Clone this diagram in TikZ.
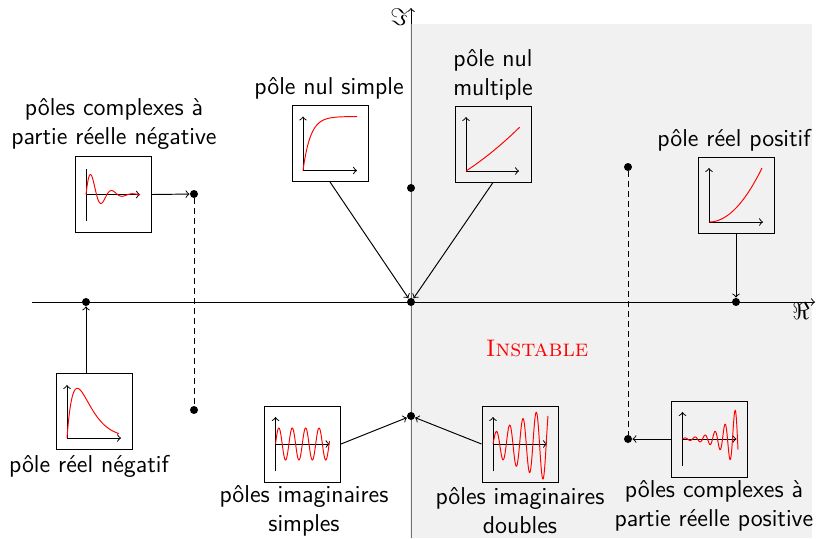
\documentclass[tikz,border=0pt]{standalone}
\usepackage{fontspec}
\begin{document}
\begin{tikzpicture}[x=0.5pt,y=-0.5pt,>=to,line width=0.48pt,
  every node/.style={font=\fontsize{12}{14}\selectfont},
  box/.style={draw, minimum size=38pt, inner sep=0pt},
  dot/.style={circle, fill, inner sep=0pt, minimum size=4pt},
  lab/.style={font=\sffamily\fontsize{12.2}{14.4}\selectfont, align=center, inner sep=0pt},
  curve/.style={red, smooth},
  dashline/.style={dash pattern=on 3pt off 2pt}]
\useasboundingbox (0,0) rectangle (820,538);
% imaginary axis (under the shaded region)
\draw[->] (411,538) -- (411,8);
\fill[black!11, fill opacity=0.5] (410.4,24) rectangle (812,538);
% real axis
\draw[->] (32,302) -- (815,302);
\node (re) at (801,311) {$\Re$};
\node (im) at (399,17) {$\Im$};
\node[red] (inst) at (537,348) {\textsc{Instable}};
% dots
\node[dot] (dA) at (86,302) {};
\node[dot] (dB) at (194,194) {};
\node[dot] (dC) at (194,410) {};
\node[dot] (dD) at (411,188) {};
\node[dot] (dE) at (411,416) {};
\node[dot] (dO) at (411,302) {};
\node[dot] (dF) at (628,167) {};
\node[dot] (dG) at (628,439) {};
\node[dot] (dH) at (736,302) {};
% boxes
\node[box] (b1) at (113,194.5) {};
\node[box] (b2) at (330,143.5) {};
\node[box] (b3) at (493,144) {};
\node[box] (b4) at (736,195) {};
\node[box] (b5) at (94,411) {};
\node[box] (b6) at (302.5,444) {};
\node[box] (b7) at (520,444) {};
\node[box] (b8) at (709.5,439) {};
% labels
\node[lab] (t1) at (114,124) {pôles complexes à\\partie réelle négative};
\node[lab] (t2) at (329,88) {pôle nul simple};
\node[lab] (t3) at (493,75) {pôle nul\\multiple};
\node[lab] (t4) at (734,140) {pôle réel positif};
\node[lab] (t5) at (89,466) {pôle réel négatif};
\node[lab] (t6) at (304,511) {pôles imaginaires\\simples};
\node[lab] (t7) at (520,511) {pôles imaginaires\\doubles};
\node[lab] (t8) at (714,506) {pôles complexes à\\partie réelle positive};
% connectors
\draw[->] (b1.east) -- (dB);
\draw[dashline] (dB) -- (dC);
\draw[->] (b2.south) -- (dO);
\draw[->] (b3.south) -- (dO);
\draw[->] (b4.south) -- (dH);
\draw[->] (b5.north -| dA) -- (dA);
\draw[->] (b6.east) -- (dE);
\draw[->] (b7.west) -- (dE);
\draw[->] (b8.west) -- (dG);
\draw[dashline] (dF) -- (dG);
% plots
\begin{scope}[shift={(b1.center)},yscale=-1]
  \draw (-27,-26) -- (-27,26);
  \draw[->] (-27,0) -- (27,0);
  \draw[curve] plot[domain=0:54,samples=160] ({\x-27},{29*exp(-\x/13)*sin(17.1429*\x)});
\end{scope}
\begin{scope}[shift={(b2.center)},yscale=-1]
  \draw[->] (-27,-27) -- (-27,27);
  \draw[->] (-27,-27) -- (27,-27);
  \draw[curve] plot[domain=0:54,samples=80] ({\x-27},{54*(1-exp(-\x/7.5))-27});
\end{scope}
\begin{scope}[shift={(b3.center)},yscale=-1]
  \draw[->] (-27,-27) -- (-27,27);
  \draw[->] (-27,-27) -- (26,-27);
  \draw[curve] plot[domain=0:53.6,samples=40] ({\x-27},{0.655*\x+0.003*\x*\x-27});
\end{scope}
\begin{scope}[shift={(b4.center)},yscale=-1]
  \draw[->] (-27,-27) -- (-27,27);
  \draw[->] (-27,-27) -- (27,-27);
  \draw[curve] plot[domain=0:53,samples=40] ({\x-27},{54*(\x/53)*(\x/53)-27});
\end{scope}
\begin{scope}[shift={(b5.center)},yscale=-1]
  \draw[->] (-27,-27) -- (-27,26);
  \draw[->] (-27,-27) -- (27,-27);
  \draw[curve] plot[domain=0:52,samples=100] ({\x-27},{13.1*\x*exp(-\x/10.3)-27});
\end{scope}
\begin{scope}[shift={(b6.center)},yscale=-1]
  \draw[->] (-27,-27) -- (-27,27);
  \draw[->] (-27,0) -- (27,0);
  \draw[curve] plot[domain=0:54,samples=200] ({\x-27},{16*sin(26.8657*\x)});
\end{scope}
\begin{scope}[shift={(b7.center)},yscale=-1]
  \draw[->] (-27,-27) -- (-27,27);
  \draw[->] (-27,0) -- (27,0);
  \draw[curve] plot[domain=0:55,samples=200] ({\x-27},{(11+0.48*\x)*sin(27.0677*\x)});
\end{scope}
\begin{scope}[shift={(b8.center)},yscale=-1]
  \draw[->] (-27,-27) -- (-27,27);
  \draw[->] (-27,0) -- (27,0);
  \draw[curve] plot[domain=0:55.5,samples=220] ({\x-27},{0.9*exp(\x/15.2)*sin(36*\x)});
\end{scope}
\end{tikzpicture}
\end{document}
